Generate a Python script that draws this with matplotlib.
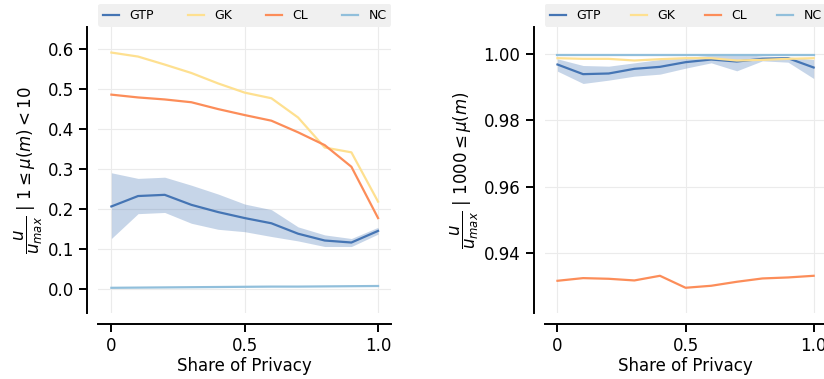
import matplotlib.pyplot as plt
import numpy as np

share = [0.0, 0.1, 0.2, 0.3, 0.4, 0.5, 0.6, 0.7, 0.8, 0.9, 1.0]

# low mu group: 1 <= mu(m) < 10
low_gtp = [0.206, 0.232, 0.235, 0.210, 0.192, 0.177, 0.164, 0.138, 0.121, 0.116, 0.145]
low_gtp_hi = [0.290, 0.276, 0.279, 0.259, 0.237, 0.212, 0.198, 0.155, 0.135, 0.126, 0.154]
low_gtp_lo = [0.126, 0.188, 0.191, 0.164, 0.149, 0.143, 0.131, 0.120, 0.106, 0.106, 0.137]
low_gk = [0.590, 0.580, 0.560, 0.539, 0.513, 0.490, 0.476, 0.428, 0.353, 0.341, 0.218]
low_cl = [0.485, 0.478, 0.473, 0.466, 0.449, 0.434, 0.420, 0.391, 0.359, 0.305, 0.177]
low_nc = [0.003, 0.0035, 0.004, 0.0045, 0.005, 0.0055, 0.006, 0.006, 0.0065, 0.007, 0.0075]

# high mu group: 1000 <= mu(m)
high_gtp = [0.9967, 0.9938, 0.9940, 0.9954, 0.9960, 0.9974, 0.9982, 0.9976, 0.9984, 0.9986, 0.9958]
high_gtp_hi = [0.9984, 0.9964, 0.9962, 0.9972, 0.9982, 0.9988, 0.9995, 1.0000, 0.9992, 0.9990, 0.9982]
high_gtp_lo = [0.9947, 0.9910, 0.9920, 0.9932, 0.9938, 0.9956, 0.9972, 0.9948, 0.9978, 0.9974, 0.9925]
high_gk = [0.9986, 0.9984, 0.9984, 0.9979, 0.9983, 0.9986, 0.9986, 0.9979, 0.9981, 0.9984, 0.9986]
high_cl = [0.9317, 0.9325, 0.9323, 0.9318, 0.9332, 0.9296, 0.9302, 0.9314, 0.9324, 0.9327, 0.9332]
high_nc = [0.9997] * 11

labels = ["GTP", "GK", "CL", "NC"]
colors = ["#4575b4", "#fee090", "#fc8d59", "#91bfdb"]

plt.rcParams["font.family"] = "DejaVu Sans"

fig = plt.figure(figsize=(8.24, 3.79), dpi=100)
ax1 = fig.add_axes([0.119, 0.174, 0.356, 0.755])
ax2 = fig.add_axes([0.661, 0.174, 0.342, 0.755])


def draw(ax, gtp, lo, hi, gk, cl, nc):
    ax.fill_between(share, lo, hi, color=colors[0], alpha=0.3, lw=0)
    ax.plot(share, gtp, color=colors[0], lw=1.6, label=labels[0])
    ax.plot(share, gk, color=colors[1], lw=1.6, label=labels[1])
    ax.plot(share, cl, color=colors[2], lw=1.6, label=labels[2])
    ax.plot(share, nc, color=colors[3], lw=1.6, label=labels[3])
    ax.set_xlim(-0.05, 1.05)
    ax.set_xticks([0, 0.5, 1.0])
    ax.set_xticklabels(["0", "0.5", "1.0"])
    ax.grid(True, color="#ebebeb", lw=0.8)
    ax.set_axisbelow(True)
    for s in ["top", "right"]:
        ax.spines[s].set_visible(False)
    for s in ["left", "bottom"]:
        ax.spines[s].set_linewidth(1.4)
        ax.spines[s].set_position(("outward", 8))
    ax.tick_params(labelsize=12, width=1.4, length=6)
    ax.set_xlabel("Share of Privacy", fontsize=12, labelpad=1)
    ax.legend(loc="lower left", bbox_to_anchor=(0, 1.0, 1, 0.08), mode="expand",
              ncol=4, borderaxespad=0, fontsize=9, handlelength=1.3,
              facecolor="#f0f0f0", edgecolor="none", fancybox=True, framealpha=1)


draw(ax1, low_gtp, low_gtp_lo, low_gtp_hi, low_gk, low_cl, low_nc)
ax1.set_ylim(-0.06, 0.654)
ax1.set_yticks([0.0, 0.1, 0.2, 0.3, 0.4, 0.5, 0.6])
ax1.set_ylabel(r"$\dfrac{u}{u_{max}}$ | $1 \leq \mu(m) < 10$", fontsize=12, labelpad=2)

draw(ax2, high_gtp, high_gtp_lo, high_gtp_hi, high_gk, high_cl, high_nc)
ax2.set_ylim(0.922, 1.008)
ax2.set_yticks([0.94, 0.96, 0.98, 1.00])
ax2.set_yticklabels(["0.94", "0.96", "0.98", "1.00"])
ax2.set_ylabel(r"$\dfrac{u}{u_{max}}$ | $1000 \leq \mu(m)$", fontsize=12, labelpad=2)

fig.savefig("out.png", dpi=100)
